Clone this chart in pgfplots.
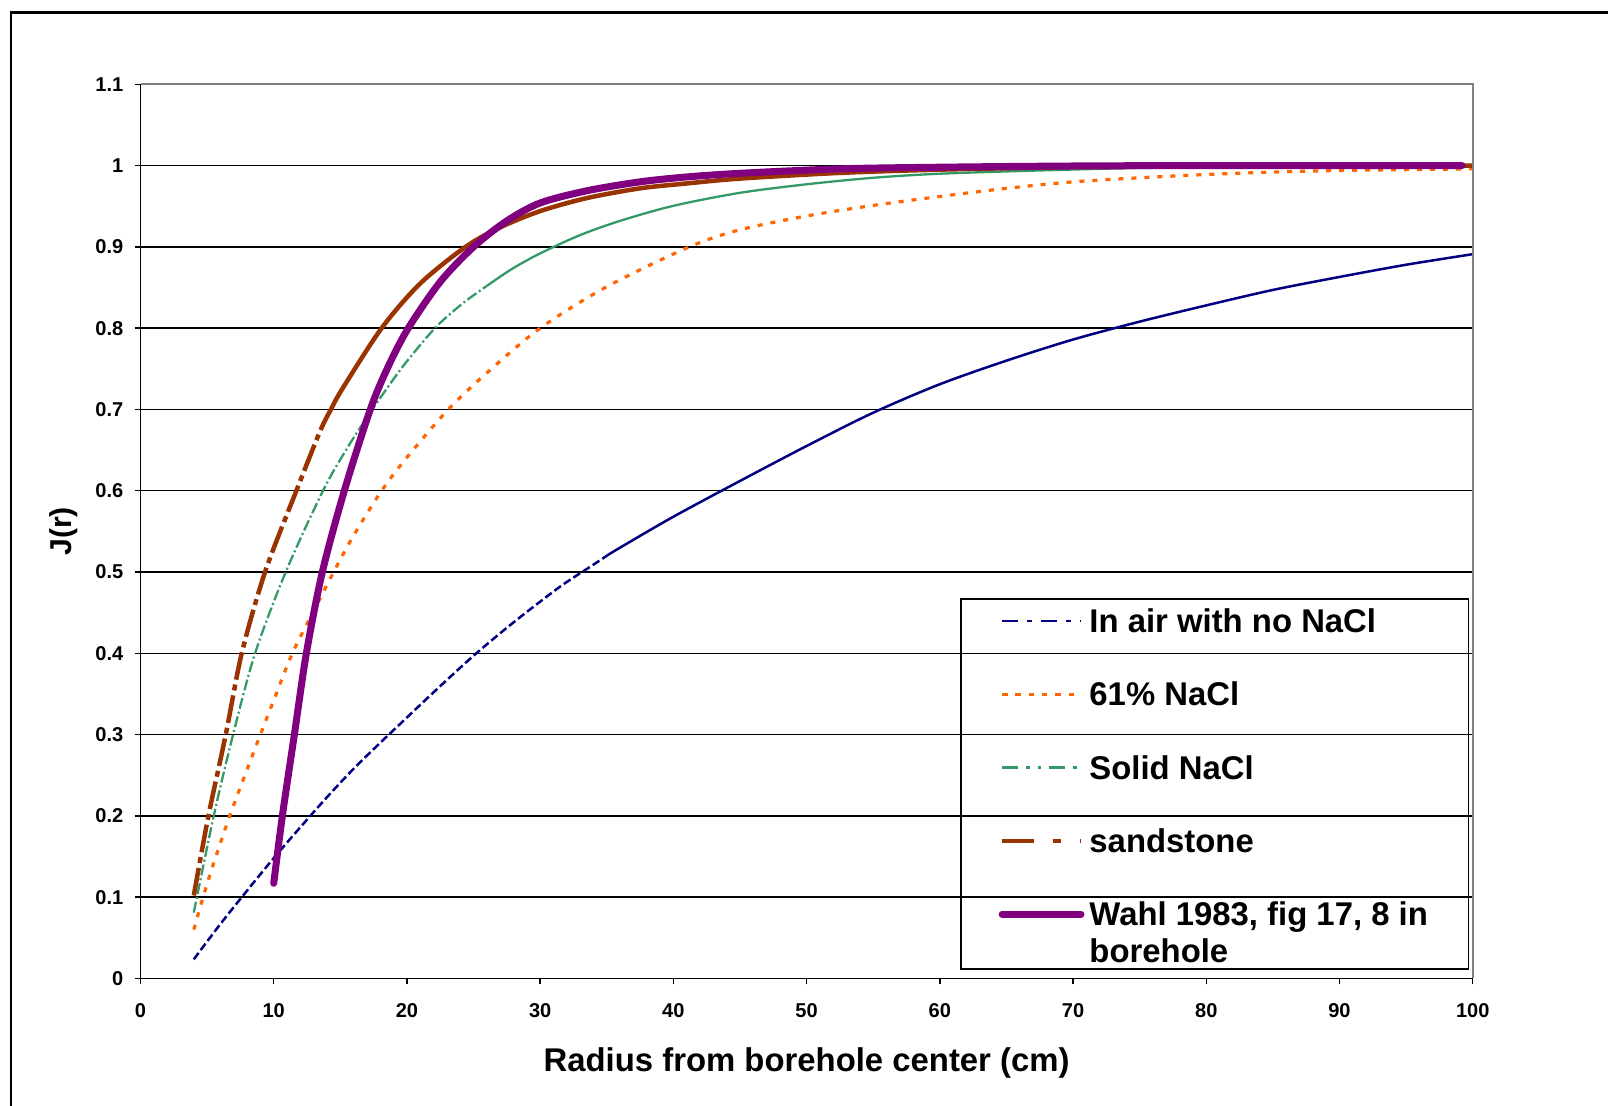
\documentclass[border=0pt]{standalone}
\usepackage{pgfplots}
\pgfplotsset{compat=1.18}
\usepackage{fontspec}
\setmainfont{Liberation Sans}

\definecolor{airblue}{RGB}{0,0,128}
\definecolor{naorange}{RGB}{255,102,0}
\definecolor{solgreen}{RGB}{51,153,102}
\definecolor{sandbrown}{RGB}{153,51,0}
\definecolor{wahlpurple}{RGB}{128,0,128}
\definecolor{boxgray}{RGB}{128,128,128}

\begin{document}
\begin{tikzpicture}
\useasboundingbox (0,0) rectangle (160.8mm,110.5mm);
% outer chart frame (only left and top edges are inside the picture)
\draw[line width=0.25mm] (1.1mm,-1mm) -- (1.1mm,109.27mm) -- (170mm,109.27mm);

\begin{axis}[
  at={(14.05mm,12.66mm)}, anchor=south west,
  scale only axis, width=133.22mm, height=89.41mm,
  xmin=0, xmax=100, ymin=0, ymax=1.1,
  xtick={0,10,...,100},
  ytick={0,0.1,0.2,0.3,0.4,0.5,0.6,0.7,0.8,0.9,1,1.1},
  minor tick num=0,
  tick align=outside, xtick pos=left, ytick pos=left,
  major tick length=0.6mm,
  every tick/.style={black, line width=0.15mm},
  ymajorgrids, major grid style={black, line width=0.14mm},
  axis line style={draw=none},
  /pgf/number format/assume math mode=true,
  ticklabel style={font=\fontsize{5.7}{6.8}\selectfont\bfseries, inner sep=0pt},
  xticklabel style={anchor=north, yshift=-1.86mm},
  yticklabel style={anchor=east, xshift=-1.05mm},
  xlabel={Radius from borehole center (cm)},
  xlabel style={at={(axis description cs:0.5,-0.0941)}, anchor=center,
    font=\fontsize{9.35}{11}\selectfont\bfseries, inner sep=0pt},
  ylabel={J(r)},
  ylabel style={at={(axis description cs:-0.0578,0.5)}, anchor=center,
    font=\fontsize{8.6}{10}\selectfont\bfseries, inner sep=0pt},
  legend style={at={(axis description cs:0.6157,0.4243)}, anchor=north west,
    draw=none, fill=none,
    inner xsep=1.76mm, inner ysep=0.9mm, row sep=4.42mm, column sep=0.5mm,
    font=\fontsize{9.35}{10.5}\selectfont\bfseries,
    nodes={inner sep=0pt}, cells={anchor=base west}},
  legend image code/.code={
    \path[draw=none] (0mm,0mm) -- (10.2mm,0mm);
    \draw[#1] (2.3mm,1.15mm) -- (10.2mm,1.15mm);},
  after end axis/.code={
    \draw[boxgray, line width=0.22mm] (rel axis cs:0,1) -- (rel axis cs:1,1) -- (rel axis cs:1,0);
    \draw[black, line width=0.17mm] (rel axis cs:0,1) -- (rel axis cs:0,0) -- (rel axis cs:1,0);
    % legend frame
    \draw[black, line width=0.15mm] (rel axis cs:0.6157,0.0105) rectangle (rel axis cs:0.9967,0.4243);
  },
  every axis plot/.append style={smooth, tension=0.5},
]

% In air with no NaCl
\addplot[airblue, line width=0.25mm, dash pattern=on 0.8mm off 0.35mm, forget plot] coordinates {
  (4,0.0235) (6,0.067) (8,0.108) (10,0.148) (12,0.186) (14,0.223) (16,0.258)
  (18,0.290) (20,0.321) (22,0.352) (25,0.397) (28,0.438) (31.5,0.482) (34,0.509) (35,0.520)};
\addplot[airblue, line width=0.25mm, forget plot] coordinates {
  (35,0.520) (36,0.530) (40,0.568) (45,0.612) (50,0.655) (55,0.696) (60,0.731) (65,0.760)
  (70,0.786) (75,0.808) (80,0.828) (85,0.847) (90,0.863) (95,0.878) (100,0.891)};

% 61% NaCl
\addplot[naorange, line width=0.32mm, dash pattern=on 0.5mm off 0.8mm, forget plot] coordinates {
  (4,0.060) (4.7,0.100) (5.5,0.142) (6.7,0.200) (8,0.257) (9,0.300) (10,0.342)
  (11.4,0.400) (13,0.452) (14.5,0.500) (16,0.545) (18.1,0.600) (20,0.641)
  (23.1,0.700) (26,0.745) (30,0.800) (35,0.851) (41.2,0.900) (45,0.921)
  (50,0.938) (55,0.951) (60,0.962) (65,0.972) (70,0.980) (75,0.985)
  (80,0.989) (85,0.992) (90,0.994) (95,0.995) (100,0.996)};

% Solid NaCl
\addplot[solgreen, line width=0.23mm, dash pattern=on 1.1mm off 0.3mm on 0.2mm off 0.3mm, forget plot] coordinates {
  (4,0.081) (5.5,0.2) (6.95,0.3) (8.6,0.4) (10.9,0.5) (13.7,0.6) (15.5,0.652)
  (17.4,0.7) (19.7,0.753) (22.1,0.8) (24,0.828) (25.3,0.844) (26,0.852)};
\addplot[solgreen, line width=0.23mm, forget plot] coordinates {
  (26,0.852) (26.7,0.860) (28,0.874) (30,0.892) (33,0.9145) (36,0.932)
  (40,0.9505) (45,0.9665) (50,0.977) (55,0.985) (60,0.990) (67.5,0.994)
  (75,0.997) (85,0.9985) (100,0.9996)};

% sandstone
\addplot[sandbrown, line width=0.45mm, dash pattern=on 2.8mm off 0.5mm on 0.6mm off 0.5mm, forget plot] coordinates {
  (4,0.102) (5.1,0.2) (6.4,0.3) (7.6,0.4) (9.35,0.5) (11.7,0.6) (13.5,0.674) (14.3,0.7)};
\addplot[sandbrown, line width=0.45mm, forget plot] coordinates {
  (14.3,0.7) (15.1,0.724) (18.1,0.8) (21,0.855) (24.4,0.9) (27,0.924) (30,0.944)
  (33.5,0.960) (37.5,0.972) (41,0.978) (45,0.984) (52.5,0.991) (60,0.995)
  (70,0.998) (80,0.999) (100,1.0)};

% Wahl 1983
\addplot[wahlpurple, line width=0.7mm, line cap=round, forget plot] coordinates {
  (10,0.117) (10.65,0.2) (11.55,0.3) (12.45,0.4) (13.65,0.5) (15.3,0.6)
  (17.25,0.7) (18.6,0.753) (20.1,0.8) (22.5,0.857) (25,0.9) (27.5,0.932)
  (30,0.954) (33.5,0.969) (37.5,0.980) (41,0.986) (45,0.9905) (52.5,0.996)
  (60,0.998) (70,0.9995) (80,1.0) (99.2,1.0)};

\addlegendimage{airblue, line width=0.25mm, dash pattern=on 1.6mm off 0.9mm on 0.45mm off 0.95mm}
\addlegendentry{In air with no NaCl}
\addlegendimage{naorange, line width=0.32mm, dash pattern=on 0.55mm off 0.78mm}
\addlegendentry{61\% NaCl}
\addlegendimage{solgreen, line width=0.23mm, dash pattern=on 1.6mm off 0.8mm on 0.35mm off 0.8mm on 0.35mm off 0.8mm}
\addlegendentry{Solid NaCl}
\addlegendimage{sandbrown, line width=0.45mm, dash pattern=on 3.17mm off 1.9mm on 0.87mm off 1.83mm}
\addlegendentry{sandstone}
\addlegendimage{wahlpurple, line width=0.68mm, line cap=round}
\addlegendentry{\parbox[t]{36mm}{Wahl 1983, fig 17, 8 in\\borehole}}
\end{axis}
\end{tikzpicture}
\end{document}
